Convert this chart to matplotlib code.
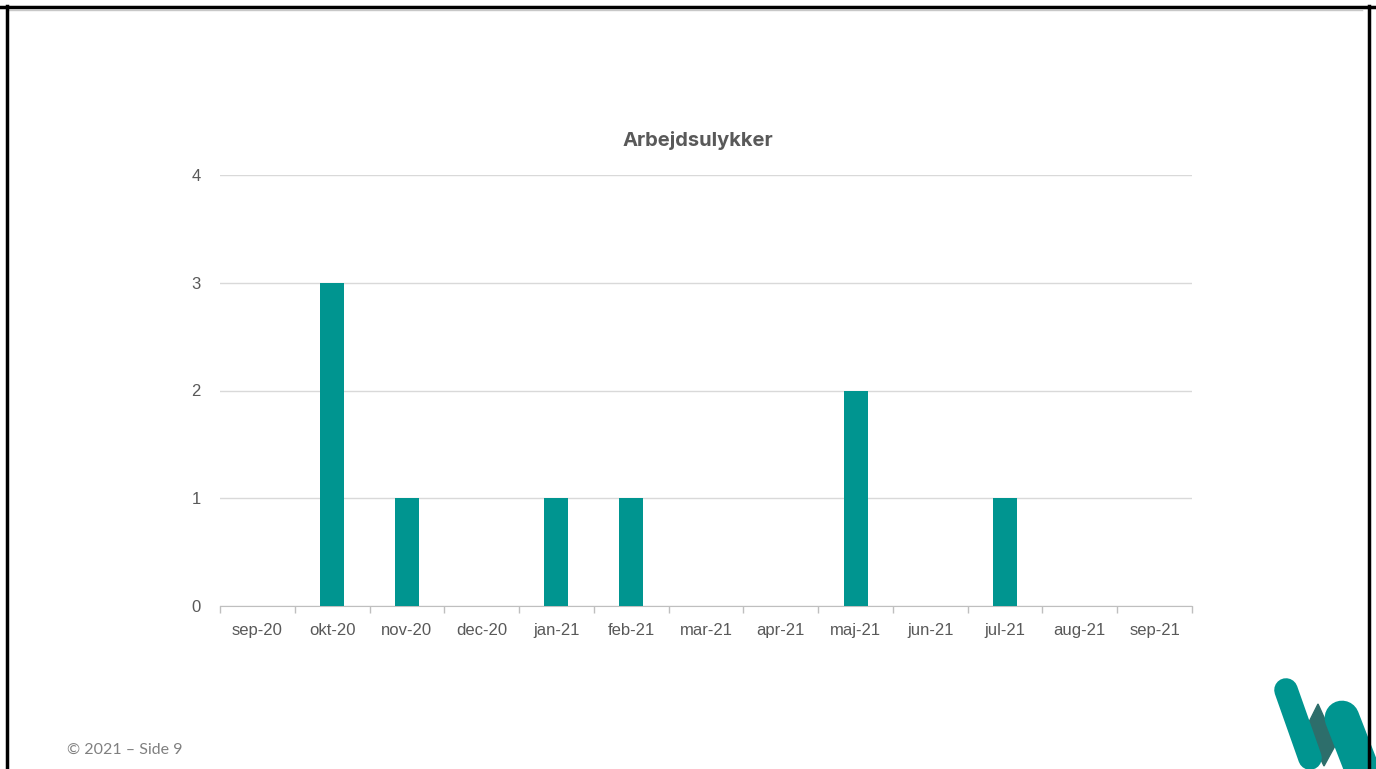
import matplotlib
matplotlib.use("Agg")
import matplotlib.pyplot as plt
from matplotlib.patches import Polygon
from matplotlib.lines import Line2D

months = ["sep-20", "okt-20", "nov-20", "dec-20", "jan-21", "feb-21", "mar-21",
          "apr-21", "maj-21", "jun-21", "jul-21", "aug-21", "sep-21"]
accidents = [0, 3, 1, 0, 1, 1, 0, 0, 2, 0, 1, 0, 0]

teal = "#009590"
grey_txt = "#595959"

W, H = 1376, 769
fig = plt.figure(figsize=(W / 100, H / 100), dpi=100)
ax = fig.add_axes([220 / W, 1 - 606 / H, (1192 - 220) / W, (606 - 175) / H])

x = list(range(len(months)))
ax.bar(x, accidents, width=0.32, color=teal, zorder=3)
ax.set_xlim(-0.5, len(months) - 0.5)
ax.set_ylim(0, 4)
ax.set_yticks([0, 1, 2, 3, 4])
ax.set_xticks(x)
ax.set_xticklabels(months, fontfamily="Liberation Sans")
ax.set_yticklabels(["0", "1", "2", "3", "4"], fontfamily="Liberation Sans")
ax.set_xticks([i - 0.5 for i in range(len(months) + 1)], minor=True)
ax.tick_params(axis="x", which="major", length=0, pad=12, labelsize=12, labelcolor=grey_txt)
ax.tick_params(axis="x", which="minor", length=5, color="#bfbfbf", width=1)
ax.tick_params(axis="y", length=0, pad=14, labelsize=12, labelcolor=grey_txt)
ax.grid(axis="y", color="#d9d9d9", linewidth=1, zorder=0)
for s in ["top", "right", "left"]:
    ax.spines[s].set_visible(False)
ax.spines["bottom"].set_color("#bfbfbf")

fig.text(698 / W, 1 - 141 / H, "Arbejdsulykker", ha="center", va="center",
         fontsize=14.5, fontweight="bold", color=grey_txt, fontfamily="Inter")
fig.text(67 / W, 1 - 750 / H, "\u00a9 2021 \u2013 Side 9", ha="left", va="center",
         fontsize=11.5, color="#808080", fontfamily="Lato")

# slide frame
fig.add_artist(Line2D([0, 1], [1 - 7 / H, 1 - 7 / H], color="black", linewidth=2.5))
fig.add_artist(Line2D([8 / W, 1362 / W], [1 - 10 / H, 1 - 10 / H], color="#c8c8c8", linewidth=1))
fig.add_artist(Line2D([7 / W, 7 / W], [0, 1 - 6 / H], color="black", linewidth=2.5))

# logo
def px(pts):
    xs = [a / W for a, b in pts]
    ys = [1 - b / H for a, b in pts]
    return xs, ys

lx, ly = px([(1286, 690), (1310, 758)])
fig.add_artist(Line2D(lx, ly, color=teal, linewidth=17, solid_capstyle="round"))
mid = [(a / W, 1 - b / H) for a, b in [(1318, 704), (1336, 744), (1324, 766), (1306, 728)]]
fig.add_artist(Polygon(mid, closed=True, color="#2d6e6b", transform=fig.transFigure))
rx, ry = px([(1342, 718), (1370, 790)])
fig.add_artist(Line2D(rx, ry, color=teal, linewidth=25, solid_capstyle="round"))

fig.add_artist(Line2D([1369 / W, 1369 / W], [0, 1 - 6 / H], color="black", linewidth=2.5))
fig.add_artist(Polygon([(1371 / W, 0), (1, 0), (1, 1), (1371 / W, 1)], closed=True,
                       color="white", transform=fig.transFigure))

fig.savefig("out.png", dpi=100)
